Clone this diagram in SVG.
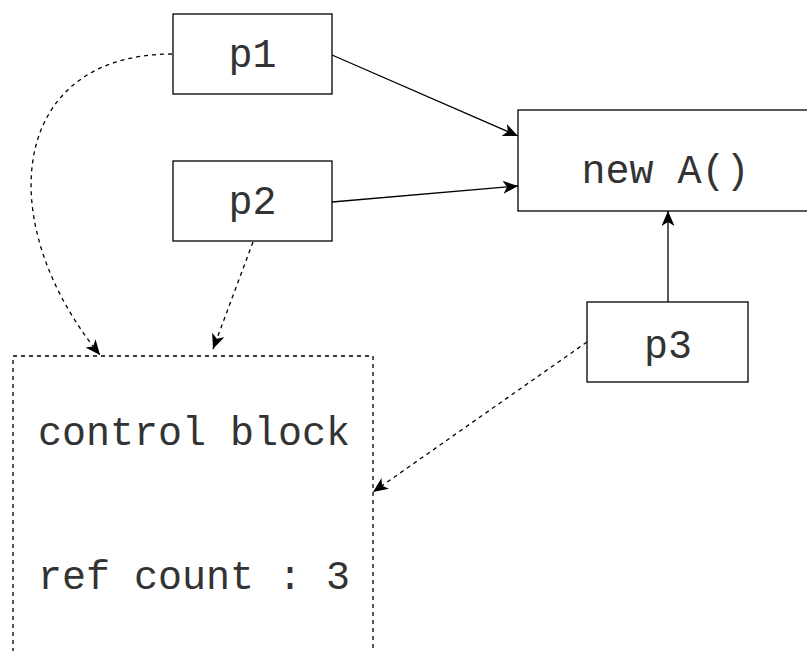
<svg xmlns="http://www.w3.org/2000/svg" width="807" height="651" viewBox="0 0 807 651">
<style>
.box{fill:#fff;stroke:#000;stroke-width:1.3}
.dbox{fill:#fff;stroke:#000;stroke-width:1.3;stroke-dasharray:4 4}
.t{font-family:"Liberation Mono","Courier New",monospace;font-size:40px;fill:#333;text-anchor:middle}
.c{fill:none;stroke:#000;stroke-width:1.3}
.d{fill:none;stroke:#000;stroke-width:1.3;stroke-dasharray:4 4}
</style>
<defs>
<marker id="arr" markerUnits="userSpaceOnUse" markerWidth="18" markerHeight="14" refX="15" refY="6.5" orient="auto" viewBox="0 0 18 14">
<path d="M0,0 L15,6.5 L0,13 L4,6.5 Z" fill="#000"/>
</marker>
</defs>
<g id="control-block">
<rect class="dbox" x="13" y="356" width="360" height="320"/>
<text class="t" x="194" y="445">control block</text>
<text class="t" x="194" y="589">ref count : 3</text>
</g>
<g id="newA">
<rect class="box" x="518" y="110" width="300" height="101"/>
<text class="t" x="665.5" y="183">new A()</text>
</g>
<g id="p1">
<rect class="box" x="173" y="14" width="159" height="80"/>
<text class="t" x="252.5" y="67">p1</text>
</g>
<g id="p2">
<rect class="box" x="173" y="161" width="159" height="80"/>
<text class="t" x="252.5" y="214">p2</text>
</g>
<g id="p3">
<rect class="box" x="587" y="302" width="161" height="80"/>
<text class="t" x="668" y="358">p3</text>
</g>
<g id="connectors">
<path class="c" d="M332,55 L518,136" marker-end="url(#arr)"/>
<path class="c" d="M332,202 L518,186" marker-end="url(#arr)"/>
<path class="c" d="M668,302 L668,211" marker-end="url(#arr)"/>
<path class="d" d="M172,54 C10,54 -10,220 100,355" marker-end="url(#arr)"/>
<path class="d" d="M253,242 L213,349" marker-end="url(#arr)"/>
<path class="d" d="M587,342 L373,492" marker-end="url(#arr)"/>
</g>
</svg>
